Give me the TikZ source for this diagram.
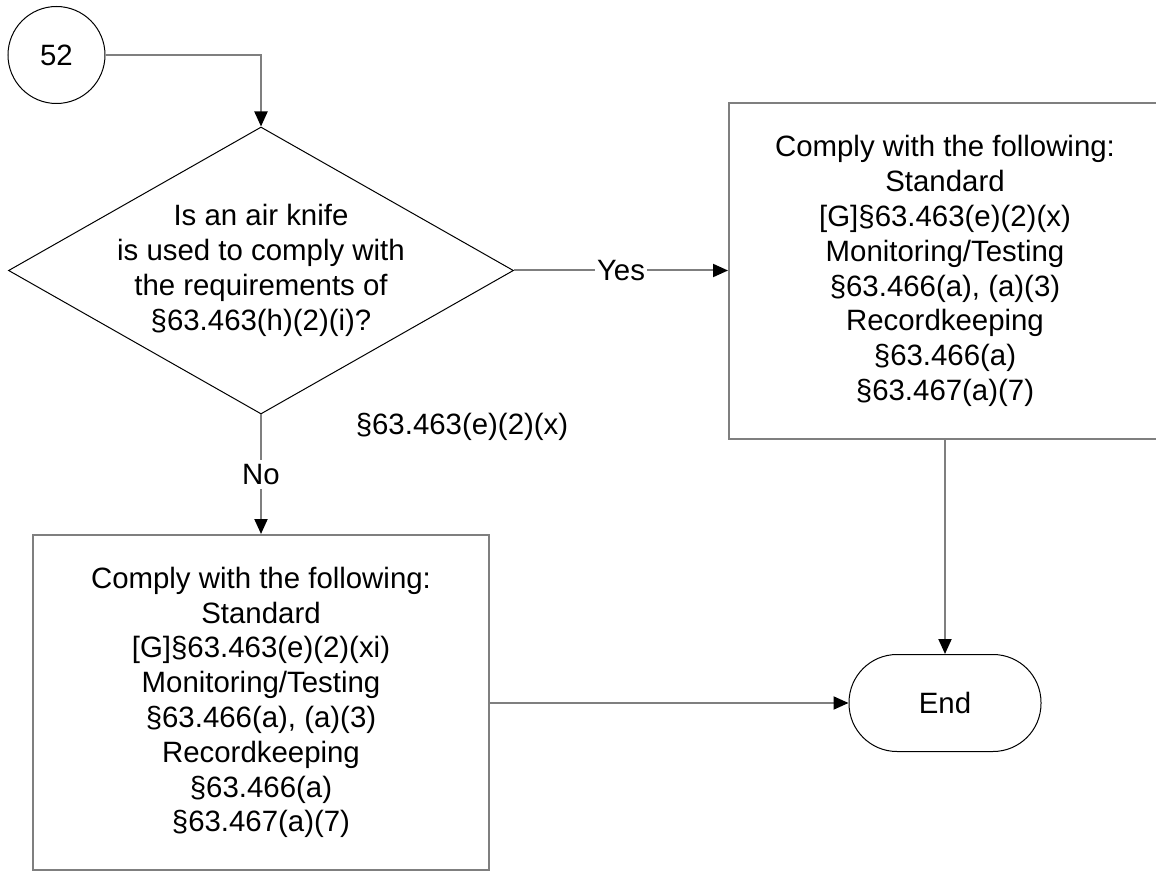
\documentclass[tikz,border=0pt]{standalone}
\usepackage{fontspec}
\setmainfont{Liberation Sans}
\usepackage{tikz}
\usetikzlibrary{shapes.geometric,arrows.meta}

\definecolor{linegray}{HTML}{7F7F7F}

\begin{document}
\begin{tikzpicture}[x=0.5pt, y=-0.5pt, >={Triangle[length=7.5pt,width=6.5pt,color=black]},
  font=\fontsize{14.7}{17.4}\selectfont,
  conn/.style={->, draw=linegray, line width=1pt},
  connector/.style={circle, draw, line width=0.5pt, minimum size=48.5pt, inner sep=0pt},
  decision/.style={diamond, draw, line width=0.5pt, minimum width=252.5pt, minimum height=143.5pt, inner sep=0pt},
  action/.style={rectangle, draw=linegray, line width=1pt, align=center, inner sep=0pt},
  terminal/.style={rectangle, rounded corners=24pt, draw, line width=0.5pt, minimum width=96pt, minimum height=48.5pt}]

  \useasboundingbox (0,0) rectangle (1156,871);

  \node[connector] (C52) at (56.5,55) {52};
  \node[decision] (Q1) at (261,270.5)
    [label={[align=center]center:Is an air knife\\is used to comply with\\the requirements of\\§63.463(h)(2)(i)?}] {};
  \node[action, minimum width=216pt, minimum height=168pt] (YesBox) at (945,271)
    {Comply with the following:\\Standard\\{[G]}§63.463(e)(2)(x)\\Monitoring/Testing\\§63.466(a), (a)(3)\\Recordkeeping\\§63.466(a)\\§63.467(a)(7)};
  \node[action, minimum width=228pt, minimum height=167.5pt] (NoBox) at (261,702.5)
    {Comply with the following:\\Standard\\{[G]}§63.463(e)(2)(xi)\\Monitoring/Testing\\§63.466(a), (a)(3)\\Recordkeeping\\§63.466(a)\\§63.467(a)(7)};
  \node[terminal] (End) at (945,703) {End};
  \node (Ref) at (462,427) {§63.463(e)(2)(x)};

  \draw[conn] (C52.east) -| (Q1.north);
  \draw[conn] (Q1.east) -- node[fill=white, inner sep=1pt] {Yes} (YesBox.west |- Q1.east);
  \draw[conn] (Q1.south) -- node[fill=white, inner sep=2pt] {No} (NoBox.north);
  \draw[conn] (YesBox.south) -- (End.north);
  \draw[conn] (NoBox.east |- End.west) -- (End.west);

\end{tikzpicture}
\end{document}
